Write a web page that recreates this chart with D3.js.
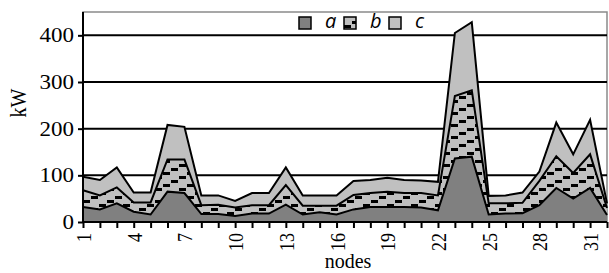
<!DOCTYPE html>
<html>
<head>
<meta charset="utf-8">
<script src="https://cdn.jsdelivr.net/npm/d3@7"></script>
<style>
  body { margin: 0; background: #fff; }
  svg { display: block; }
</style>
</head>
<body>
<svg id="chart" width="609" height="273"></svg>
<script>
// data
const nodes = d3.range(1, 33);
const seriesA = [32, 27, 40, 22, 16, 65, 62, 17, 17, 13, 18, 18, 37, 16, 21, 16,
  27, 32, 32, 32, 31, 25, 136, 140, 16, 18, 19, 36, 73, 50, 73, 15];
const seriesB = [36, 30, 34, 20, 26, 69, 72, 19, 20, 18, 18, 18, 42, 19, 14, 19,
  31, 30, 33, 30, 31, 32, 134, 142, 24, 22, 22, 52, 68, 55, 72, 15];
const seriesC = [29, 33, 43, 21, 21, 74, 70, 21, 20, 14, 26, 26, 38, 22, 22, 22,
  30, 28, 30, 28, 27, 29, 135, 146, 16, 17, 22, 20, 72, 40, 74, 10];
const keys = ["a", "b", "c"];
const yTicks = [0, 100, 200, 300, 400];
const xTickLabels = d3.range(1, 33, 3);

const serif = "Liberation Serif";
const margin = { top: 12, right: 2, bottom: 51, left: 83 };
const svg = d3.select("#chart");
const width = +svg.attr("width") - margin.left - margin.right;
const height = +svg.attr("height") - margin.top - margin.bottom;

const x = d3.scaleLinear().domain([1, 32]).range([0, width]);
const y = d3.scaleLinear().domain([0, 450]).range([height, 0]);

const table = nodes.map((n, i) => ({ node: n, a: seriesA[i], b: seriesB[i], c: seriesC[i] }));
const stacked = d3.stack().keys(keys)(table);

// dashed pattern for series b
const defs = svg.append("defs");
const pat = defs.append("pattern")
  .attr("id", "dash")
  .attr("patternUnits", "userSpaceOnUse")
  .attr("width", 24)
  .attr("height", 12);
pat.append("rect").attr("width", 24).attr("height", 12).attr("fill", "#c0c0c0");
[[0, 8], [8, 4], [16, 0]].forEach(([px, py]) => {
  pat.append("rect").attr("x", px).attr("y", py).attr("width", 7).attr("height", 3).attr("fill", "#000");
});

const fills = { a: "#808080", b: "url(#dash)", c: "#c0c0c0" };

const g = svg.append("g").attr("transform", `translate(${margin.left},${margin.top})`);

// frame (top/right in gray)
g.append("rect")
  .attr("x", 0).attr("y", 0)
  .attr("width", width).attr("height", height)
  .attr("fill", "none")
  .attr("stroke", "#8a8a8a")
  .attr("stroke-width", 1.5);

// gridlines
g.append("g")
  .selectAll("line")
  .data(yTicks.filter(d => d > 0))
  .join("line")
  .attr("x1", 0).attr("x2", width)
  .attr("y1", d => y(d)).attr("y2", d => y(d))
  .attr("stroke", "#000")
  .attr("stroke-width", 2);

const area = d3.area()
  .x(d => x(d.data.node))
  .y0(d => y(d[0]))
  .y1(d => y(d[1]));
const topLine = d3.line()
  .x(d => x(d.data.node))
  .y(d => y(d[1]));

g.append("g")
  .selectAll("path")
  .data(stacked)
  .join("path")
  .attr("d", area)
  .attr("fill", d => fills[d.key]);

g.append("g")
  .selectAll("path")
  .data(stacked)
  .join("path")
  .attr("d", topLine)
  .attr("fill", "none")
  .attr("stroke", "#000")
  .attr("stroke-width", 2);

// y axis
const yAxis = g.append("g")
  .call(d3.axisLeft(y).tickValues(yTicks).tickSize(5).tickPadding(4))
  .attr("font-family", serif)
  .attr("font-size", 20);
yAxis.select(".domain").attr("stroke", "#000").attr("stroke-width", 2).attr("d", `M0,${height}V0`);
yAxis.selectAll(".tick line").attr("stroke-width", 2);
yAxis.selectAll(".tick text")
  .attr("x", null)
  .attr("transform", "translate(-9,0) scale(1.15,1)")
  .attr("fill", "#000");

// x axis
const xAxis = g.append("g")
  .attr("transform", `translate(0,${height})`)
  .call(d3.axisBottom(x).tickValues(nodes).tickSize(6).tickFormat(d => xTickLabels.includes(d) ? d : ""))
  .attr("font-family", serif)
  .attr("font-size", 18);
xAxis.select(".domain").attr("stroke", "#000").attr("stroke-width", 2).attr("d", `M0,0H${width}`);
xAxis.selectAll(".tick line").attr("stroke-width", 2);
xAxis.selectAll(".tick text")
  .attr("transform", "scale(1.2,1) rotate(-90)")
  .attr("text-anchor", "end")
  .attr("x", -11)
  .attr("y", 0)
  .attr("dy", "0.35em")
  .attr("fill", "#000");

// axis titles
svg.append("text")
  .attr("x", margin.left + width / 2 + 3)
  .attr("y", 268)
  .attr("text-anchor", "middle")
  .attr("font-family", serif)
  .attr("font-size", 20)
  .text("nodes");

svg.append("text")
  .attr("transform", "translate(26,103) rotate(-90) scale(1,1.15)")
  .attr("text-anchor", "middle")
  .attr("font-family", serif)
  .attr("font-size", 20)
  .text("kW");

// legend
const legend = svg.append("g").attr("transform", "translate(299,17)");
const item = legend.selectAll("g")
  .data(keys)
  .join("g")
  .attr("transform", (d, i) => `translate(${i * 45},0)`);
item.append("rect")
  .attr("width", 12).attr("height", 12)
  .attr("fill", d => fills[d])
  .attr("stroke", "#000")
  .attr("stroke-width", 1.5);
item.append("text")
  .attr("x", 26)
  .attr("y", 11)
  .attr("font-family", "Open Sans")
  .attr("font-style", "italic")
  .attr("font-size", 20)
  .text(d => d);
</script>
</body>
</html>
